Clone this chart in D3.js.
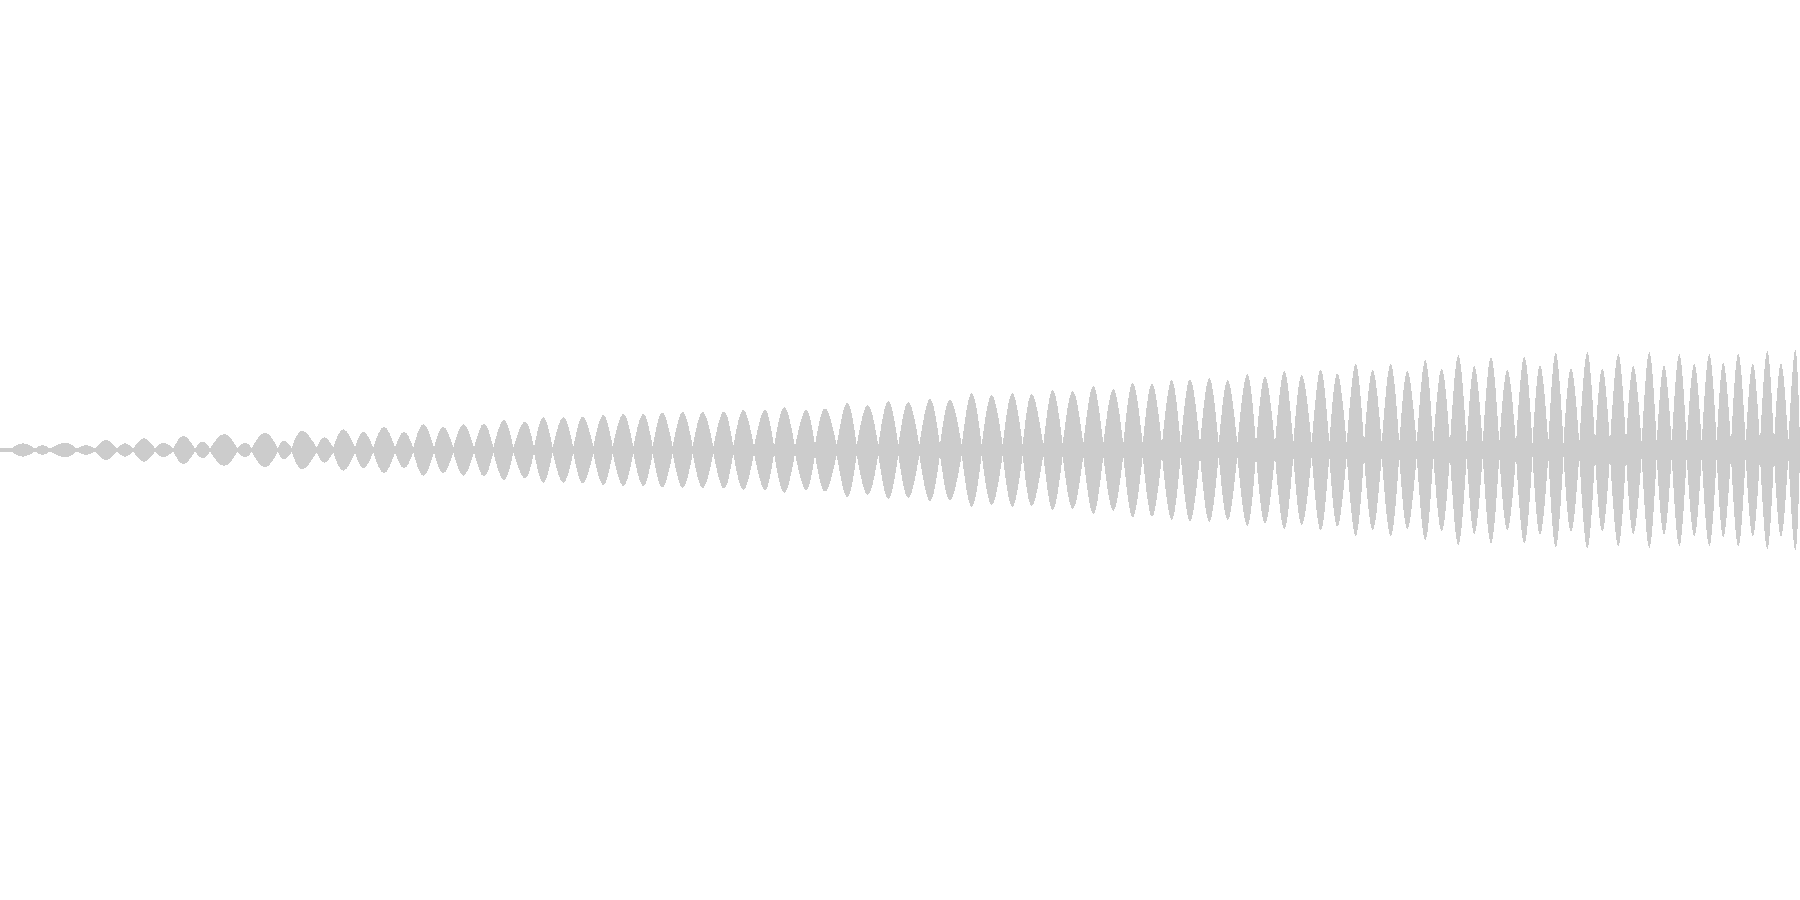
<!DOCTYPE html>
<html>
<head>
<meta charset="utf-8">
<script src="https://cdn.jsdelivr.net/npm/d3@7"></script>
<style>
    html, body { margin: 0; padding: 0; background: #fff; overflow: hidden; }
</style>
</head>
<body>
<script>
const width = 1800;
const height = 900;

// zero-crossing positions of the waveform (sample units)
const nodeT = [
    0, 11.7, 35, 50, 76.7, 95, 116.7, 133.3, 155, 173.3, 195, 210, 237.3, 251.7, 277.7, 291.7,
    316.7, 333.3, 355, 373.3, 395, 413.3, 434, 453.3, 474, 493.3, 513.3, 534, 552.7, 573.3,
    593.3, 612.7, 633.3, 652.7, 672.7, 692.7, 713.3, 733.3, 754, 774, 795,
    815, 836.7, 856.7, 878.3, 898.3, 919.3, 940, 961.7, 981.7, 1002.7, 1022.7, 1043.3,
    1062.7, 1083.3, 1103.3, 1123.3, 1142.7, 1162, 1180.7, 1200, 1218.7, 1237.3, 1256, 1275, 1293.3,
    1311.7, 1329.3, 1346.7, 1364, 1381.7, 1399.3, 1416.7, 1433.3, 1450, 1466.7, 1482.7, 1499.3, 1516, 1532.5,
    1548.3, 1563.5, 1579.3, 1595, 1610, 1626, 1641.7, 1656.7, 1671.7, 1686.7, 1701.7, 1716.7, 1731,
    1745.7, 1760, 1774, 1788.3, 1800
];

// residual amplitude at each crossing
const nodeAmp = [
    0.02, 0.02, 0.015, 0.015, 0.015, 0.015, 0.015, 0.015, 0.015, 0.015, 0.015, 0.015, 0.02, 0.02, 0.02, 0.02,
    0.025, 0.025, 0.025, 0.025, 0.025, 0.025, 0.025, 0.025, 0.025, 0.025, 0.025, 0.025, 0.025, 0.025,
    0.035, 0.035, 0.035, 0.035, 0.035, 0.035, 0.035, 0.035, 0.035, 0.035, 0.035,
    0.05, 0.05, 0.05, 0.05, 0.05, 0.05, 0.05, 0.05, 0.05, 0.05, 0.05, 0.05,
    0.06, 0.06, 0.06, 0.06, 0.06, 0.06, 0.06, 0.06, 0.06, 0.06, 0.06, 0.06, 0.06,
    0.065, 0.065, 0.065, 0.065, 0.065, 0.065, 0.065, 0.065, 0.065, 0.065, 0.065, 0.065, 0.065, 0.065,
    0.07, 0.07, 0.07, 0.07, 0.07, 0.07, 0.07, 0.07, 0.07, 0.07, 0.07, 0.07, 0.07,
    0.07, 0.07, 0.07, 0.07, 0.07
];

// peak of each half-cycle
const peakT = [
    6, 22.7, 42.7, 65, 86, 106, 125, 144, 163.3, 183.3, 202.7, 224, 245, 265, 284, 302,
    324.3, 343.3, 363.3, 384, 404, 423.3, 443.3, 463.3, 484, 504, 525, 543.3, 563.3,
    582.7, 603.3, 623.3, 643.3, 662.3, 682.7, 702.7, 724, 743.3, 765, 784.3, 806,
    825, 847.3, 867.7, 888.3, 908.3, 930, 950, 971.7, 991.7, 1012.3, 1031.7, 1052.7,
    1072.7, 1093.3, 1113.3, 1132.7, 1152, 1171.7, 1190, 1209.3, 1227.7, 1247.3, 1265, 1284.3,
    1301.7, 1320.7, 1337.3, 1355.7, 1372.7, 1390.7, 1407.3, 1425.3, 1441.7, 1458.3, 1474.3, 1491,
    1507.3, 1524.3, 1540, 1555.7, 1571, 1587.3, 1602.3, 1618.3, 1633.3, 1649.3, 1664, 1679.3,
    1694.3, 1709.3, 1723.3, 1738.3, 1752.7, 1767.3, 1781, 1795.3
];

const peakAmp = [
    0.02, 0.067, 0.05, 0.073, 0.05, 0.10, 0.067, 0.117, 0.073, 0.14, 0.083, 0.16, 0.073, 0.173, 0.093, 0.193,
    0.127, 0.207, 0.183, 0.233, 0.183, 0.26, 0.233, 0.257, 0.267, 0.30, 0.283, 0.327, 0.327,
    0.333, 0.35, 0.36, 0.36, 0.373, 0.38, 0.38, 0.387, 0.40, 0.40, 0.427, 0.40,
    0.417, 0.473, 0.45, 0.49, 0.48, 0.51, 0.507, 0.57, 0.55, 0.57, 0.56, 0.60,
    0.59, 0.64, 0.607, 0.673, 0.667, 0.70, 0.71, 0.72, 0.70, 0.76, 0.733, 0.79,
    0.75, 0.807, 0.767, 0.86, 0.80, 0.86, 0.79, 0.90, 0.817, 0.95, 0.84, 0.933,
    0.80, 0.935, 0.85, 0.973, 0.823, 0.98, 0.817, 0.96, 0.84, 0.98, 0.847, 0.96,
    0.867, 0.96, 0.873, 0.967, 0.867, 0.99, 0.867, 1.007
];

const svg = d3.select('body').append('svg')
    .attr('width', width)
    .attr('height', height);

const xScale = d3.scaleLinear()
    .domain([0, 1800])
    .range([0, width]);

const yScale = d3.scaleLinear()
    .domain([-1.2, 1.2])
    .range([height / 2 + 120, height / 2 - 120]);

// one lens per half-cycle: crossing -> peak -> crossing
const lobes = peakT.map((t, i) => [
    { t: nodeT[i], a: nodeAmp[i] },
    { t: t, a: peakAmp[i] },
    { t: nodeT[i + 1], a: nodeAmp[i + 1] }
]);

const area = d3.area()
    .x(d => xScale(d.t))
    .y0(d => yScale(-d.a))
    .y1(d => yScale(d.a))
    .curve(d3.curveNatural);

svg.append('g')
    .attr('class', 'wave')
    .selectAll('path')
    .data(lobes)
    .enter().append('path')
    .attr('d', area)
    .style('fill', '#cccccc')
    .style('shape-rendering', 'crispEdges');
</script>
</body>
</html>
